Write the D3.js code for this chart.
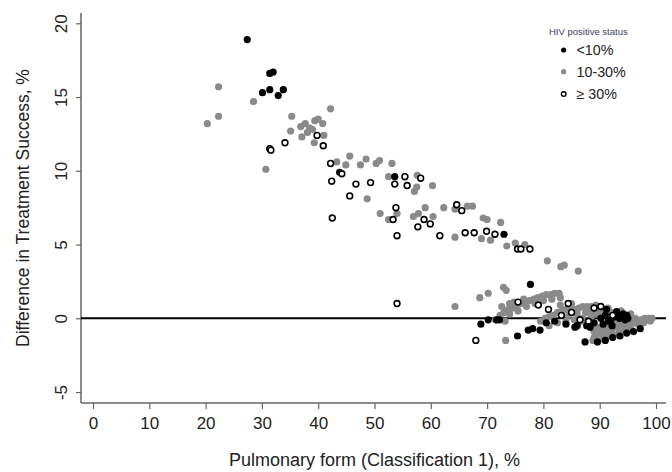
<!DOCTYPE html>
<html><head><meta charset="utf-8">
<script src="https://cdn.jsdelivr.net/npm/d3@7"></script>
<style>body{margin:0;background:#fff}svg{display:block}text{font-family:"Liberation Sans",Arial,Helvetica,sans-serif}</style>
</head><body><svg id="c" width="672" height="472"></svg>
<script>
const xTicks = [0,10,20,30,40,50,60,70,80,90,100];
const yTicks = [-5,0,5,10,15,20];
const legendTitle = "HIV positive status";
const legendLabels = ["<10%","10-30%","\u2265 30%"];
const xTitle = "Pulmonary form (Classification 1), %";
const yTitle = "Difference in Treatment Success, %";

// HIV <10%
const blackPts = [[27.4,18.9],[31.4,16.6],[32.0,16.7],[30.1,15.3],[31.4,15.5],[33.8,15.5],[32.9,15.1],[43.8,9.9],[53.6,9.6],[73.0,5.7],[77.7,2.3],
[68.9,-0.4],[70.2,-0.1],[71.7,-0.1],[72.2,-0.1],[75.4,-1.2],[77.3,-0.8],[78.1,-0.7],[79.4,-0.8],[87.4,-1.6],[85.6,-0.6],[87.7,-0.5],
[80.5,-0.3],[82.0,-0.2],[84.0,-0.4],[86.0,-0.5],[88.3,-0.6],[89.0,-0.3],[90.6,-0.4],[91.5,-0.2],[91.2,0.6],[93.0,0.45],[92.7,0.1],[94.2,0.3],
[93.5,0.0],[94.5,-0.1],[89.6,-1.6],[91.0,-1.5],[92.3,-1.3],[93.6,-1.2],[94.8,-1.0],[96.0,-0.9],[97.2,-0.7],[92.2,-0.5],
[92.0,-0.1],[93.8,0.2],[94.8,0.2],[91.0,0.2],[90.2,0.0],[95.0,0.0]];

// HIV 10-30%
const grayPts = [[22.3,15.7],[22.3,13.7],[20.3,13.2],[28.5,14.7],[42.2,14.2],[35.3,13.7],[35.1,12.7],[36.9,13.0],[37.7,13.2],[38.5,12.9],[39.4,13.4],[40.0,13.5],
[40.8,13.2],[39.0,12.8],[38.1,12.6],[37.1,12.3],[39.3,11.9],[41.0,12.4],[30.7,10.1],[43.3,10.6],[44.9,10.4],[45.6,11.0],[47.5,10.4],[48.5,10.8],[50.3,10.5],
[50.9,10.7],[53.1,10.5],[52.5,9.6],[57.6,9.7],[57.5,8.9],[57.1,8.6],[60.3,9.0],[48.7,8.1],[54.0,7.1],[51.0,7.1],[52.5,6.7],[56.9,6.9],[57.8,7.1],[59.0,7.5],
[60.4,6.9],[62.3,7.5],[64.3,7.4],[66.5,7.6],[67.4,7.6],[64.3,5.5],[69.3,6.8],[70.0,6.7],[72.4,6.5],[69.0,5.4],[70.6,5.3],[73.5,4.9],[75.0,5.1],[76.7,5.0],
[80.7,3.9],[83.1,3.5],[83.7,3.6],[86.2,3.2],[72.9,2.1],[73.4,1.9],[70.2,1.7],[68.7,1.4],[64.3,0.8],[73.3,-1.5],
[71.5,-0.1],[72.3,0.2],[73.0,0.4],[73.8,0.6],[74.5,0.7],[75.3,0.9],[76.0,1.0],[76.8,1.1],[77.5,1.2],[78.3,1.3],[79.0,1.4],[79.8,1.5],[80.5,1.6],[81.3,1.6],
[82.0,1.7],[82.8,1.7],[72.6,0.8],[74.0,1.0],[73.2,-0.2],
[74.0,0.3],[75.5,0.5],[77.0,0.8],[78.5,1.0],[80.0,1.2],[81.5,1.3],[83.0,1.4],[74.8,1.1],[76.5,1.3],
[79.5,-0.2],[80.3,0.0],[81.0,0.1],[81.8,0.2],[82.5,0.4],[83.3,0.5],[84.0,0.6],[84.8,0.7],[85.5,0.6],[86.3,0.7],[87.0,0.8],[87.8,0.8],[88.5,0.8],[89.3,0.9],
[90.0,0.8],[81.0,-0.5],[82.5,-0.3],[84.0,-0.2],[85.5,-0.1],[87.0,0.0],[88.5,0.1],[90.0,0.2],[83.0,0.9],[85.0,1.0],[87.5,0.4],[89.0,0.3],
[86.0,0.3],[88.0,0.5],[90.5,0.5],[91.5,0.7],[84.5,0.2],[86.8,-0.2],[89.5,0.6],
[88.8,-1.5],[89.3,-1.2],[89.0,-0.9],[89.8,-1.0],[90.5,-1.1],[90.3,-0.7],[91.2,-0.9],[92.0,-0.8],[91.8,-0.5],[92.8,-0.6],[93.5,-0.5],[93.2,-0.3],[94.3,-0.4],
[95.0,-0.3],[94.8,-0.1],[95.8,-0.2],[96.5,-0.1],[96.3,0.0],[97.3,-0.1],[98.0,0.0],[98.8,0.0],[99.3,0.0],[97.8,-0.3],[96.8,-0.4],[95.5,-0.6],[94.5,-0.8],
[93.5,-0.9],[92.5,-1.1],[91.5,-1.2],[90.5,-1.4],[93.8,0.5],[95.5,0.3],[92.0,0.4],
[89.5,-0.6],[90.8,-0.5],[92.0,-0.3],[93.0,-0.1],[94.0,0.0],[95.2,0.0],[96.0,-0.3],[97.0,-0.2],[98.5,-0.1],[99.0,-0.2],[89.0,-1.3],[88.9,-0.7]];

// HIV >= 30%
const openPts = [[31.4,11.5],[31.6,11.4],[34.1,11.9],[39.8,12.4],[40.9,11.7],[42.2,10.5],[42.4,9.3],[42.5,6.8],[44.2,9.8],[46.7,9.1],[49.3,9.2],[53.6,9.1],
[55.4,9.6],[55.8,9.0],[58.2,9.5],[45.6,8.3],[53.8,7.5],[53.3,6.7],[54.0,5.6],[58.8,6.7],[59.9,6.4],[57.7,6.2],[64.6,7.7],[65.5,7.3],[61.6,5.6],[66.1,5.8],
[67.7,5.8],[69.9,5.9],[71.4,5.7],[75.4,4.7],[76.0,4.7],[77.6,4.7],[54.0,1.0],[68.0,-1.5],[75.5,1.1],[79.1,0.9],[80.9,0.6],[84.4,1.0],[85.0,0.4],[83.2,0.2],
[86.5,-0.1],[89.0,0.7],[90.2,0.8],[92.3,0.2],[88.0,-0.2]];

const svg = d3.select("#c");
const x = d3.scaleLinear().domain([0,100]).range([93,656]);
const y = d3.scaleLinear().domain([0,20]).range([318.3,23.3]);
const pLeft = 81, pRight = 666, pTop = 13, pBottom = 403;
const axisCol = "#666";

// frame (L-shaped)
svg.append("line").attr("x1",pLeft).attr("x2",pLeft).attr("y1",pTop).attr("y2",pBottom).attr("stroke",axisCol).attr("stroke-width",1.5);
svg.append("line").attr("x1",pLeft).attr("x2",pRight).attr("y1",pBottom).attr("y2",pBottom).attr("stroke",axisCol).attr("stroke-width",1.5);

// x axis
const gx = svg.append("g").attr("transform",`translate(0,${pBottom})`)
  .call(d3.axisBottom(x).tickValues(xTicks).tickFormat(d=>String(d)).tickSize(6).tickSizeOuter(0).tickPadding(4));
gx.select(".domain").remove();
gx.selectAll(".tick line").attr("stroke",axisCol).attr("stroke-width",1.2);
gx.selectAll(".tick text").attr("font-size",17).attr("fill","#222").attr("dy",null).attr("y",26);

// y axis
const gy = svg.append("g").attr("transform",`translate(${pLeft},0)`)
  .call(d3.axisLeft(y).tickValues(yTicks).tickFormat(d=>String(d)).tickSize(5).tickSizeOuter(0));
gy.select(".domain").remove();
gy.selectAll(".tick line").attr("stroke",axisCol).attr("stroke-width",1.2);
gy.selectAll(".tick text").attr("font-size",17).attr("fill","#222")
  .attr("x",null).attr("dy",null).attr("text-anchor","middle")
  .attr("transform","translate(-14,0) rotate(-90)").attr("y",0);

// zero line
svg.append("line").attr("x1",pLeft).attr("x2",pRight).attr("y1",y(0)).attr("y2",y(0)).attr("stroke","#000").attr("stroke-width",2);

// points
const r = 3.6;
svg.append("g").selectAll("circle").data(grayPts).join("circle")
  .attr("cx",d=>x(d[0])).attr("cy",d=>y(d[1])).attr("r",r).attr("fill","#8a8a8a");
svg.append("g").selectAll("circle").data(blackPts).join("circle")
  .attr("cx",d=>x(d[0])).attr("cy",d=>y(d[1])).attr("r",r).attr("fill","#000");
svg.append("g").selectAll("circle").data(openPts).join("circle")
  .attr("cx",d=>x(d[0])).attr("cy",d=>y(d[1])).attr("r",2.9).attr("fill","#fff").attr("stroke","#000").attr("stroke-width",1.6);

// titles
svg.append("text").attr("x",(x(0)+x(100))/2).attr("y",466).attr("text-anchor","middle").attr("font-size",18).attr("fill","#222").text(xTitle);
svg.append("text").attr("transform",`translate(29,${(pTop+pBottom)/2}) rotate(-90)`).attr("text-anchor","middle").attr("font-size",17.5).attr("fill","#222").text(yTitle);

// legend
const lg = svg.append("g");
lg.append("text").attr("x",549).attr("y",35).attr("font-size",9.5).attr("fill","#3d4260").text(legendTitle);
const rows = [50,71.7,94];
const styles = [{fill:"#000",stroke:"none"},{fill:"#8a8a8a",stroke:"none"},{fill:"#fff",stroke:"#000"}];
legendLabels.forEach((lab,i)=>{
  lg.append("circle").attr("cx",563.7).attr("cy",rows[i]).attr("r",i===2?2.3:2.6).attr("fill",styles[i].fill).attr("stroke",styles[i].stroke).attr("stroke-width",1.4);
  lg.append("text").attr("x",576.5).attr("y",rows[i]+5).attr("font-size",14.3).attr("fill","#222").text(lab);
});
</script></body></html>
